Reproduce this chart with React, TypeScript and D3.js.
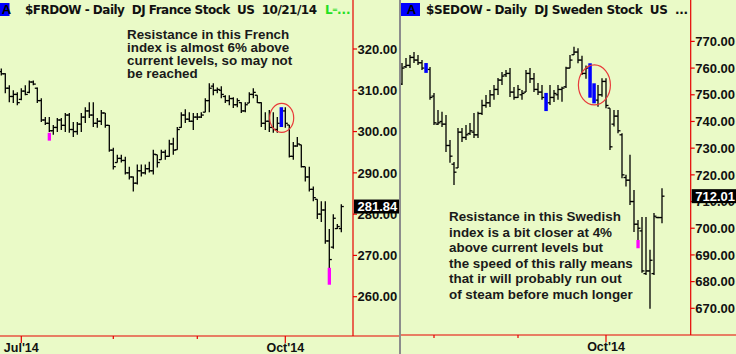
import React, { useEffect, useRef } from "react";
import * as d3 from "d3";

// $FRDOW daily bars, [open, high, low, close]
const frBars = [
  [314.5, 315.3, 313.6, 314.0], [314.0, 314.1, 309.3, 310.5], [310.5, 311.2, 307.1, 308.5],
  [308.5, 310.0, 306.9, 309.0], [309.0, 309.5, 306.4, 307.0], [307.8, 310.5, 307.6, 309.8],
  [309.8, 311.2, 308.8, 309.0], [309.5, 312.4, 309.3, 312.0], [312.0, 312.4, 311.2, 311.5],
  [310.5, 310.7, 306.9, 307.5], [307.5, 308.1, 302.3, 302.8], [302.8, 303.5, 301.6, 302.0],
  [302.0, 303.5, 299.9, 300.2], [300.2, 301.6, 299.2, 301.0], [301.0, 303.3, 299.9, 302.8],
  [302.8, 303.3, 300.4, 301.5], [301.5, 304.5, 299.9, 304.0], [304.0, 304.5, 299.7, 300.5],
  [300.5, 302.3, 298.7, 300.0], [300.0, 302.3, 299.2, 301.8], [301.8, 304.5, 299.9, 303.5],
  [303.5, 305.9, 302.1, 305.0], [305.0, 307.1, 303.3, 304.0], [304.0, 307.1, 301.1, 302.0],
  [302.0, 303.3, 300.9, 302.5], [302.5, 305.2, 301.6, 304.5], [304.5, 304.5, 300.9, 301.5],
  [301.5, 301.6, 295.1, 295.5], [295.5, 296.1, 290.8, 291.5], [292.5, 294.4, 292.5, 293.5],
  [293.5, 294.4, 292.5, 293.0], [293.0, 293.9, 289.6, 290.0], [290.0, 291.5, 288.4, 289.0],
  [289.0, 289.1, 285.5, 287.5], [287.5, 292.0, 287.2, 290.5], [290.5, 292.0, 289.1, 290.0],
  [290.0, 292.0, 289.6, 291.0], [291.0, 292.7, 290.1, 290.5], [290.5, 295.6, 289.6, 294.5],
  [294.4, 294.4, 291.3, 292.5], [293.2, 295.6, 293.2, 295.0], [295.0, 295.6, 293.2, 294.0],
  [294.0, 298.0, 293.9, 297.0], [297.0, 298.5, 294.4, 295.5], [295.6, 301.1, 295.6, 300.5],
  [301.0, 304.7, 300.9, 304.0], [304.0, 305.4, 302.1, 303.0], [303.0, 304.7, 302.3, 302.5],
  [302.5, 304.5, 300.4, 303.5], [303.5, 304.5, 302.8, 303.5], [303.5, 304.7, 303.3, 304.0],
  [304.7, 308.1, 304.7, 307.5], [307.5, 311.7, 304.7, 310.5], [311.0, 311.7, 308.8, 310.0],
  [310.0, 310.7, 309.3, 310.2], [310.0, 311.0, 308.1, 309.0], [308.5, 308.8, 306.9, 307.5],
  [307.5, 308.8, 306.4, 308.0], [308.0, 308.3, 305.7, 306.5], [306.5, 308.1, 305.9, 307.5],
  [307.0, 307.1, 304.5, 305.0], [305.0, 307.1, 304.7, 306.5], [306.9, 309.5, 306.9, 309.0],
  [309.0, 310.5, 308.1, 309.5], [308.8, 308.8, 306.9, 307.0], [307.0, 307.1, 301.1, 302.0],
  [302.0, 304.7, 300.4, 302.5], [302.5, 305.2, 299.9, 301.0], [301.0, 304.7, 299.7, 300.5],
  [300.5, 303.5, 299.7, 302.0], [302.0, 305.9, 301.1, 305.0], [305.0, 305.9, 300.9, 302.0],
  [301.6, 301.6, 293.7, 294.0], [294.0, 297.5, 293.2, 296.5], [296.5, 298.7, 296.3, 297.0],
  [296.8, 296.8, 291.3, 291.5], [291.5, 291.5, 287.9, 289.0], [289.0, 291.5, 285.5, 286.0],
  [286.0, 286.7, 283.1, 284.0], [283.6, 283.6, 278.8, 280.0], [280.0, 283.1, 278.1, 281.0],
  [281.0, 283.1, 272.8, 273.5], [273.5, 276.4, 266.8, 269.0], [272.0, 280.0, 271.6, 279.0],
  [276.5, 277.6, 276.4, 277.0], [276.5, 282.4, 275.6, 281.84],
];
const frBlue = [70];
const frMagenta = [
  { i: 12, top: 299.7, bottom: 297.8 },
  { i: 82, top: 267.0, bottom: 262.9 },
];
const frPriceTicks = [260, 270, 280, 290, 300, 310, 320];
const frMonthTicks = [
  { i: 5, label: "Jul'14" },
  { i: 28, label: "" },
  { i: 49, label: "" },
  { i: 71, label: "Oct'14" },
];
const frLast = 281.84;
const frCircle = { i: 70.1, price: 303.3 };
const frTitle = "$FRDOW - Daily  DJ France Stock  US  10/21/14";
const frNote = [
  "Resistance in this French",
  "index is almost 6% above",
  "current levels, so may not",
  "be reached",
];

// $SEDOW daily bars, [open, high, low, close]
const seBars = [
  [754.0, 761.9, 753.7, 760.0], [760.5, 763.8, 760.0, 761.0], [761.0, 764.9, 760.0, 764.0],
  [764.0, 766.0, 761.9, 763.0], [763.0, 764.9, 761.2, 762.0], [762.0, 763.0, 759.3, 760.0],
  [760.0, 761.9, 758.2, 759.0], [759.5, 760.4, 748.1, 749.0], [749.5, 750.7, 738.7, 739.5],
  [739.0, 744.3, 738.7, 739.5], [740.0, 743.6, 737.9, 739.0], [739.0, 742.4, 728.6, 731.0],
  [731.0, 733.1, 724.5, 727.0], [724.0, 724.8, 716.2, 721.0], [722.6, 737.6, 722.6, 736.0],
  [736.0, 737.6, 732.3, 734.0], [734.0, 738.7, 733.1, 735.0], [735.5, 739.4, 734.9, 736.5],
  [736.0, 743.2, 733.8, 735.0], [735.0, 743.6, 733.8, 743.0], [743.0, 748.1, 742.4, 746.0],
  [746.0, 749.9, 745.1, 747.0], [747.0, 751.8, 745.4, 750.0], [750.0, 753.7, 748.1, 752.0],
  [752.0, 756.3, 749.9, 755.5], [755.5, 758.5, 753.7, 757.0], [757.5, 759.3, 756.7, 758.0],
  [758.0, 760.0, 749.2, 751.0], [751.0, 752.9, 748.1, 749.0], [749.0, 753.7, 748.8, 752.0],
  [750.0, 751.8, 748.1, 750.5], [751.0, 759.3, 751.0, 758.0], [758.0, 760.0, 754.4, 756.0],
  [756.0, 758.2, 751.0, 752.0], [752.0, 754.4, 749.9, 751.0], [751.0, 753.7, 748.1, 749.0],
  [749.0, 750.7, 743.9, 745.0], [747.0, 753.7, 746.2, 749.0], [749.0, 751.8, 747.3, 750.5],
  [750.0, 753.7, 748.1, 752.0], [752.0, 753.0, 747.4, 752.5], [753.0, 760.5, 752.5, 760.0],
  [760.0, 764.9, 759.9, 763.0], [765.0, 768.0, 764.9, 766.0], [766.0, 767.4, 761.8, 763.0],
  [763.0, 764.6, 757.4, 758.0], [758.0, 761.0, 756.0, 760.0], [760.0, 761.8, 748.9, 750.0],
  [750.0, 754.3, 746.8, 748.0], [748.0, 753.7, 745.5, 750.0], [750.0, 756.2, 749.3, 755.0],
  [755.0, 756.2, 745.0, 746.0], [745.0, 745.0, 729.3, 730.5], [739.0, 744.3, 738.1, 742.0],
  [742.0, 744.3, 735.6, 736.5], [735.0, 735.6, 718.7, 720.0], [719.0, 720.0, 715.6, 718.0],
  [718.0, 727.5, 708.7, 710.0], [710.0, 714.3, 698.6, 701.5], [701.5, 703.1, 695.6, 700.0],
  [699.0, 704.2, 683.3, 684.0], [683.0, 704.2, 682.5, 684.0], [684.0, 691.9, 669.8, 688.0],
  [683.0, 705.7, 682.5, 704.5], [704.0, 704.3, 703.7, 704.0], [704.0, 715.0, 701.9, 712.01],
];
const seBlue = [6, 36, 47, 48];
const seMagenta = [{ i: 59, top: 695.6, bottom: 692.5 }];
const sePriceTicks = [670, 680, 690, 700, 710, 720, 730, 740, 750, 760, 770];
const seMonthTicks = [
  { i: 8, label: "" },
  { i: 29, label: "" },
  { i: 51, label: "Oct'14" },
];
const seLast = 712.01;
const seCircle = { i: 48.1, price: 753.7 };
const seTitle = "$SEDOW - Daily  DJ Sweden Stock  US  ...";
const seNote = [
  "Resistance in this Swedish",
  "index is a bit closer at 4%",
  "above current levels but",
  "the speed of this rally means",
  "that ir will probably run out",
  "of steam before much longer",
];

const FONT = "'Liberation Sans', Arial, sans-serif";
const TITLE_FONT = "'DejaVu Sans', Verdana, sans-serif";
const RED = "#e60000";
const GREEN = "#22e022";

const drawPanel = (svg: any, p: any) => {
  const g = svg.append("g");
  const x = d3.scaleLinear().domain([0, p.bars.length - 1]).range(p.xRange);
  const y = d3.scaleLinear().domain(p.yDomain).range(p.yRange);

  // header
  g.append("rect")
    .attr("x", p.boxX).attr("y", 3).attr("width", 19).attr("height", 13)
    .attr("fill", "#0000ff");
  g.append("text")
    .attr("x", p.boxX + p.boxTextDx).attr("y", 14)
    .attr("text-anchor", "middle")
    .attr("font-family", FONT).attr("font-weight", "bold").attr("font-size", 13)
    .attr("fill", "#000").text("A");
  g.append("text")
    .attr("x", p.titleX).attr("y", 14)
    .attr("font-family", TITLE_FONT).attr("font-weight", "bold").attr("font-size", 12)
    .attr("textLength", p.titleW).attr("lengthAdjust", "spacing")
    .style("white-space", "pre")
    .attr("fill", "#111")
    .text(p.title);
  if (p.extra) {
    const e = g.append("g").attr("font-family", TITLE_FONT).attr("font-weight", "bold")
      .attr("fill", GREEN);
    e.append("text").attr("x", 325).attr("y", 14).attr("font-size", 12).text("L");
    e.append("text").attr("x", 332).attr("y", 12).attr("font-size", 7).text("=");
    e.append("text").attr("x", 337).attr("y", 14).attr("font-size", 12).text("...");
  }

  // axis lines
  g.append("line")
    .attr("x1", p.axisX).attr("x2", p.axisX).attr("y1", 0).attr("y2", p.bottom)
    .attr("stroke", RED).attr("stroke-width", 1.2);
  g.append("line")
    .attr("x1", p.left).attr("x2", p.right).attr("y1", p.bottom).attr("y2", p.bottom)
    .attr("stroke", RED).attr("stroke-width", 1.2);

  // price axis
  const ticks = g.selectAll(".pt").data(p.priceTicks).enter().append("g");
  ticks.append("line")
    .attr("x1", p.axisX).attr("x2", p.axisX + 4)
    .attr("y1", (d: number) => y(d)).attr("y2", (d: number) => y(d))
    .attr("stroke", RED).attr("stroke-width", 1.2);
  ticks.append("text")
    .attr("x", p.axisX + 4.5).attr("y", (d: number) => y(d)).attr("dy", "0.36em")
    .attr("font-family", FONT).attr("font-weight", "bold").attr("font-size", 13)
    .attr("fill", "#111")
    .text((d: number) => d3.format(".2f")(d));

  // month axis
  const mt = g.selectAll(".mt").data(p.monthTicks).enter().append("g");
  mt.append("line")
    .attr("x1", (d: any) => x(d.i)).attr("x2", (d: any) => x(d.i))
    .attr("y1", p.bottom).attr("y2", (d: any) => p.bottom + (d.label ? 7 : 3))
    .attr("stroke", RED).attr("stroke-width", 1.2);
  mt.append("text")
    .attr("x", (d: any) => x(d.i)).attr("y", p.bottom + 16)
    .attr("text-anchor", "middle")
    .attr("font-family", FONT).attr("font-weight", "bold").attr("font-size", 12.5)
    .attr("fill", "#111")
    .text((d: any) => d.label);

  // note
  g.append("g").selectAll("text").data(p.note).enter().append("text")
    .attr("x", p.noteX).attr("y", (_: any, k: number) => p.noteY + k * p.noteStep)
    .attr("font-family", FONT).attr("font-weight", "bold").attr("font-size", 13.4)
    .attr("fill", "#1a1a1a")
    .text((d: string) => d);

  // bars
  const data = p.bars.map((b: number[], i: number) => ({ i, o: b[0], h: b[1], l: b[2], c: b[3] }));
  const plain = data.filter((d: any) => !p.blue.includes(d.i));
  const bars = g.append("g").attr("stroke", "#000").attr("stroke-width", 1.3);
  bars.selectAll(".hl").data(plain).enter().append("line")
    .attr("x1", (d: any) => x(d.i)).attr("x2", (d: any) => x(d.i))
    .attr("y1", (d: any) => y(d.h)).attr("y2", (d: any) => y(d.l));
  bars.selectAll(".op").data(plain).enter().append("line")
    .attr("x1", (d: any) => x(d.i) - 2.5).attr("x2", (d: any) => x(d.i))
    .attr("y1", (d: any) => y(d.o)).attr("y2", (d: any) => y(d.o));
  bars.selectAll(".cl").data(plain).enter().append("line")
    .attr("x1", (d: any) => x(d.i)).attr("x2", (d: any) => x(d.i) + 2.5)
    .attr("y1", (d: any) => y(d.c)).attr("y2", (d: any) => y(d.c));

  g.selectAll(".bl").data(data.filter((d: any) => p.blue.includes(d.i))).enter().append("rect")
    .attr("x", (d: any) => x(d.i) - 1.7).attr("width", 3.5)
    .attr("y", (d: any) => y(d.h)).attr("height", (d: any) => y(d.l) - y(d.h))
    .attr("fill", "#0000ff");
  g.selectAll(".mg").data(p.magenta).enter().append("rect")
    .attr("x", (d: any) => x(d.i) - 1.6).attr("width", 3.3)
    .attr("y", (d: any) => y(d.top)).attr("height", (d: any) => y(d.bottom) - y(d.top))
    .attr("fill", "#ff00ff");

  // circle
  g.append("ellipse")
    .attr("cx", x(p.circle.i)).attr("cy", y(p.circle.price))
    .attr("rx", p.circleR[0]).attr("ry", p.circleR[1])
    .attr("fill", "none").attr("stroke", "#e83a3a").attr("stroke-width", 1.2);

  // last price box
  g.append("rect")
    .attr("x", p.axisX + 1).attr("y", y(p.last) - 7)
    .attr("width", p.right - p.axisX - 1).attr("height", 14)
    .attr("fill", "#000");
  g.append("text")
    .attr("x", p.axisX + 4.5).attr("y", y(p.last)).attr("dy", "0.36em")
    .attr("font-family", FONT).attr("font-weight", "bold").attr("font-size", 13)
    .attr("fill", "#fff")
    .text(d3.format(".2f")(p.last));
};

export default function App() {
  const ref = useRef<SVGSVGElement>(null);

  useEffect(() => {
    const svg = d3.select(ref.current);
    svg.selectAll("*").remove();

    svg.append("rect").attr("width", 736).attr("height", 354).attr("fill", "#eafac7");

    drawPanel(svg, {
      bars: frBars, blue: frBlue, magenta: frMagenta,
      priceTicks: frPriceTicks, monthTicks: frMonthTicks, last: frLast,
      circle: frCircle, circleR: [12, 14.5], note: frNote,
      xRange: [1.3, 341.3], yDomain: [260, 320], yRange: [296.7, 49],
      left: 0, right: 399, axisX: 353, bottom: 336,
      boxX: -9.5, boxTextDx: 16, titleX: 25, titleW: 292, title: frTitle, extra: true,
      noteX: 127, noteY: 38.5, noteStep: 13.2,
    });

    drawPanel(svg, {
      bars: seBars, blue: seBlue, magenta: seMagenta,
      priceTicks: sePriceTicks, monthTicks: seMonthTicks, last: seLast,
      circle: seCircle, circleR: [16, 20], note: seNote,
      xRange: [402, 662], yDomain: [670, 770], yRange: [308.3, 41.4],
      left: 400, right: 736, axisX: 690.7, bottom: 335,
      boxX: 401, boxTextDx: 10.5, titleX: 426, titleW: 262, title: seTitle, extra: false,
      noteX: 449, noteY: 221, noteStep: 15.5,
    });

    // panel divider
    svg.append("rect").attr("x", 399).attr("y", 0).attr("width", 2).attr("height", 354)
      .attr("fill", "#8c8c8c");
  });

  return (
    <div style={{ position: "absolute", left: 0, top: 0 }}>
      <svg ref={ref} width={736} height={354} style={{ display: "block" }} />
    </div>
  );
}
